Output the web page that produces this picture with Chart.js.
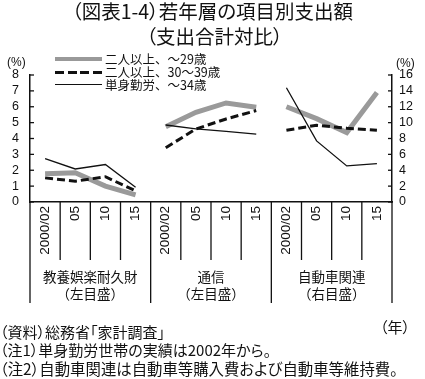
<!DOCTYPE html>
<html><head><meta charset="utf-8">
<script src="https://cdn.jsdelivr.net/npm/chart.js@4.4.1/dist/chart.umd.min.js"></script>
<style>
body{margin:0;background:#fff;}
#wrap{position:relative;width:425px;height:379px;overflow:hidden;font-family:"Noto Sans CJK JP",sans-serif;color:#111;}
canvas{position:absolute;left:0;top:0;}
.t{position:absolute;white-space:nowrap;}
.p{font-feature-settings:"palt";}
.lg{position:absolute;left:55px;height:14px;width:280px;font-size:12.5px;line-height:14px;}
.lg .s{position:absolute;left:0;width:47px;}
.lg .x{position:absolute;left:50px;top:0;white-space:nowrap;}
</style></head><body>
<div id="wrap">
<canvas id="c" width="425" height="379"></canvas>
<div class="t p" style="left:0;width:425px;text-align:center;top:0;font-size:19.5px;line-height:22px;">（図表1-4）若年層の項目別支出額</div>
<div class="t p" style="left:2px;width:425px;text-align:center;top:25px;font-size:19.5px;line-height:22px;">（支出合計対比）</div>
<div class="t" style="left:7px;top:55px;font-size:12px;font-family:'Liberation Sans';">(%)</div>
<div class="t" style="left:396px;top:56px;font-size:12px;font-family:'Liberation Sans';">(%)</div>
<div class="lg" style="top:52px;"><span class="s" style="top:5px;height:4px;background:#999;"></span><span class="x" id="l0"></span></div>
<div class="lg" style="top:65px;"><span class="s" style="top:5.5px;height:3px;background:repeating-linear-gradient(to right,#111 0 9px,transparent 9px 12.5px);"></span><span class="x" id="l1"></span></div>
<div class="lg" style="top:78px;"><span class="s" style="top:6px;height:1.2px;background:#111;"></span><span class="x" id="l2"></span></div>
<div class="t p" style="left:0;top:323px;font-size:15px;line-height:18px;">（資料）総務省「家計調査」</div>
<div class="t p" style="left:380px;top:318px;font-size:15px;line-height:18px;">（年）</div>
<div class="t p" style="left:0;top:341px;font-size:15px;line-height:18px;">（注1）単身勤労世帯の実績は2002年から。</div>
<div class="t p" style="left:0;top:359px;font-size:15.4px;line-height:18px;">（注2）自動車関連は自動車等購入費および自動車等維持費。</div>
</div>
<script>
const categories = ['2000/02','05','10','15','2000/02','05','10','15','2000/02','05','10','15'];
const groupNames = ['教養娯楽耐久財','通信','自動車関連'];
const groupScaleNotes = ['（左目盛）','（左目盛）','（右目盛）'];
const groupAxis = ['yL','yL','yR'];
const seriesNames = ['二人以上、～29歳','二人以上、30～39歳','単身勤労、～34歳'];
const under29 = [1.78, 1.84, 1.00, 0.45, 4.74, 5.65, 6.24, 5.97, 12.0, 10.5, 8.75, 13.8];
const age30s  = [1.52, 1.31, 1.59, 0.70, 3.42, 4.60, 5.23, 5.76, 9.04, 9.67, 9.30, 9.04];
const single34 = [2.73, 2.08, 2.36, 0.93, 4.85, 4.60, 4.45, 4.28, 14.4, 7.7, 4.55, 4.84];
const leftTicks = [0,1,2,3,4,5,6,7,8];
const rightTicks = [0,2,4,6,8,10,12,14,16];

const seriesValues = [under29, age30s, single34];
const seriesStyle = [
  {borderColor:'#9a9a9a', borderWidth:5, borderDash:[]},
  {borderColor:'#111', borderWidth:3, borderDash:[8,4]},
  {borderColor:'#111', borderWidth:1.3, borderDash:[]}
];
seriesNames.forEach((n,i)=>{document.getElementById('l'+i).textContent=n;});

const datasets = [];
groupNames.forEach((g,gi)=>{
  seriesValues.forEach((vals,si)=>{
    const data = categories.map((c,ci)=> Math.floor(ci/4)===gi ? vals[ci] : null);
    datasets.push(Object.assign({label:seriesNames[si], data, yAxisID:groupAxis[gi], pointRadius:0, fill:false, tension:0, spanGaps:false, order:si===0?3:(si===1?2:1)}, seriesStyle[si]));
  });
});

const deco = {
  id:'deco',
  afterDraw(chart){
    const {ctx, chartArea:a, scales:{x,yL,yR}} = chart;
    ctx.save();
    ctx.strokeStyle='#111'; ctx.lineWidth=1.3;
    const n = categories.length;
    for(let i=0;i<=n;i++){
      const px = i===0 ? a.left : (i===n ? a.right : (x.getPixelForValue(i-1)+x.getPixelForValue(i))/2);
      const len = (i%4===0) ? 101 : 58;
      ctx.beginPath(); ctx.moveTo(px,a.bottom); ctx.lineTo(px,a.bottom+len); ctx.stroke();
    }
    leftTicks.forEach(v=>{const py=yL.getPixelForValue(v); ctx.beginPath(); ctx.moveTo(a.left,py); ctx.lineTo(a.left+4,py); ctx.stroke();});
    rightTicks.forEach(v=>{const py=yR.getPixelForValue(v); ctx.beginPath(); ctx.moveTo(a.right,py); ctx.lineTo(a.right-4,py); ctx.stroke();});
    ctx.fillStyle='#111'; ctx.font='13.5px "Noto Sans CJK JP"'; ctx.textAlign='center'; ctx.textBaseline='middle';
    groupNames.forEach((g,gi)=>{
      const cx=(x.getPixelForValue(gi*4)+x.getPixelForValue(gi*4+3))/2;
      ctx.fillText(g,cx,a.bottom+75);
      ctx.fillText(groupScaleNotes[gi],cx,a.bottom+92);
    });
    ctx.restore();
  }
};

const tickFont = {family:'Liberation Sans', size:12.5};
new Chart(document.getElementById('c'), {
  type:'line',
  data:{labels:categories, datasets},
  options:{
    responsive:false, animation:false,
    layout:{padding:{top:75,left:0,right:0,bottom:0}},
    plugins:{legend:{display:false}, tooltip:{enabled:false}},
    scales:{
      x:{type:'category', offset:true,
         grid:{drawOnChartArea:false, drawTicks:false},
         border:{display:true, color:'#111', width:1.5},
         ticks:{minRotation:90, maxRotation:90, autoSkip:false, padding:4, color:'#111', font:{family:'Liberation Sans', size:13.5}},
         afterFit(s){s.height=177;}},
      yL:{position:'left', min:0, max:8,
         afterBuildTicks(s){s.ticks=leftTicks.map(v=>({value:v}));},
         grid:{drawOnChartArea:false, drawTicks:false},
         border:{display:true, color:'#111', width:1.5},
         ticks:{autoSkip:false, padding:11, color:'#111', font:tickFont},
         afterFit(s){s.width=30;}},
      yR:{position:'right', min:0, max:16,
         afterBuildTicks(s){s.ticks=rightTicks.map(v=>({value:v}));},
         grid:{drawOnChartArea:false, drawTicks:false},
         border:{display:true, color:'#111', width:1.5},
         ticks:{autoSkip:false, padding:7, color:'#111', font:tickFont},
         afterFit(s){s.width=33;}}
    }
  },
  plugins:[deco]
});
</script>
</body></html>
